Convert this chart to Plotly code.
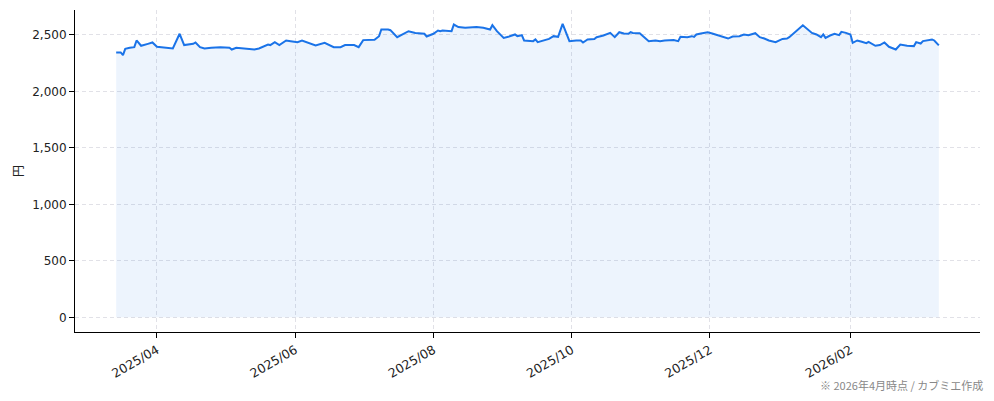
import plotly.graph_objects as go

dates = [
    "2025-03-14", "2025-03-16", "2025-03-17", "2025-03-18", "2025-03-20", "2025-03-22", "2025-03-23", "2025-03-25",
    "2025-03-28", "2025-03-30", "2025-04-01", "2025-04-04", "2025-04-08", "2025-04-11", "2025-04-13", "2025-04-17",
    "2025-04-18", "2025-04-20", "2025-04-22", "2025-04-25", "2025-04-29", "2025-05-03", "2025-05-04", "2025-05-06",
    "2025-05-11", "2025-05-14", "2025-05-16", "2025-05-19", "2025-05-20", "2025-05-21", "2025-05-23", "2025-05-25",
    "2025-05-28", "2025-05-30", "2025-06-02", "2025-06-04", "2025-06-07", "2025-06-10", "2025-06-14", "2025-06-16",
    "2025-06-18", "2025-06-21", "2025-06-23", "2025-06-27", "2025-06-29", "2025-07-01", "2025-07-05", "2025-07-06",
    "2025-07-08", "2025-07-09", "2025-07-12", "2025-07-13", "2025-07-16", "2025-07-18", "2025-07-21", "2025-07-24",
    "2025-07-26", "2025-07-28", "2025-07-29", "2025-08-01", "2025-08-03", "2025-08-04", "2025-08-05", "2025-08-07",
    "2025-08-09", "2025-08-10", "2025-08-12", "2025-08-15", "2025-08-20", "2025-08-23", "2025-08-26", "2025-08-27",
    "2025-08-29", "2025-09-01", "2025-09-03", "2025-09-06", "2025-09-07", "2025-09-09", "2025-09-10", "2025-09-14",
    "2025-09-15", "2025-09-16", "2025-09-19", "2025-09-21", "2025-09-23", "2025-09-25", "2025-09-27", "2025-09-30",
    "2025-10-03", "2025-10-05", "2025-10-06", "2025-10-08", "2025-10-11", "2025-10-12", "2025-10-15", "2025-10-18",
    "2025-10-20", "2025-10-22", "2025-10-24", "2025-10-26", "2025-10-27", "2025-10-28", "2025-10-31", "2025-11-01",
    "2025-11-04", "2025-11-07", "2025-11-09", "2025-11-11", "2025-11-15", "2025-11-17", "2025-11-18", "2025-11-21",
    "2025-11-23", "2025-11-24", "2025-11-25", "2025-11-27", "2025-11-30", "2025-12-02", "2025-12-06", "2025-12-08",
    "2025-12-09", "2025-12-11", "2025-12-14", "2025-12-16", "2025-12-18", "2025-12-21", "2025-12-23", "2025-12-25",
    "2025-12-27", "2025-12-30", "2026-01-02", "2026-01-04", "2026-01-05", "2026-01-11", "2026-01-13", "2026-01-15",
    "2026-01-17", "2026-01-19", "2026-01-20", "2026-01-21", "2026-01-23", "2026-01-25", "2026-01-27", "2026-01-28",
    "2026-01-30", "2026-02-01", "2026-02-02", "2026-02-04", "2026-02-06", "2026-02-08", "2026-02-09", "2026-02-12",
    "2026-02-14", "2026-02-16", "2026-02-18", "2026-02-21", "2026-02-23", "2026-02-26", "2026-03-01", "2026-03-02",
    "2026-03-04", "2026-03-05", "2026-03-09", "2026-03-10", "2026-03-12",
]

prices = [
    2344, 2344, 2320, 2376, 2385, 2391, 2450, 2403,
    2420, 2432, 2394, 2385, 2379, 2509, 2409, 2420,
    2432, 2391, 2379, 2385, 2391, 2385, 2370, 2385,
    2379, 2370, 2379, 2400, 2414, 2409, 2435, 2409,
    2450, 2444, 2435, 2450, 2429, 2406, 2429, 2409,
    2391, 2391, 2409, 2409, 2391, 2453, 2459, 2456,
    2488, 2547, 2547, 2541, 2479, 2503, 2532, 2517,
    2512, 2509, 2485, 2509, 2538, 2532, 2538, 2532,
    2532, 2591, 2568, 2562, 2568, 2562, 2547, 2585,
    2532, 2473, 2482, 2503, 2488, 2497, 2450, 2444,
    2459, 2435, 2453, 2464, 2488, 2482, 2597, 2444,
    2450, 2450, 2432, 2459, 2462, 2479, 2494, 2517,
    2479, 2523, 2512, 2509, 2523, 2517, 2514, 2497,
    2444, 2450, 2444, 2450, 2453, 2444, 2482, 2479,
    2488, 2482, 2503, 2512, 2523, 2512, 2488, 2479,
    2467, 2485, 2488, 2503, 2497, 2514, 2479, 2467,
    2450, 2435, 2464, 2467, 2479, 2585, 2547, 2517,
    2503, 2479, 2503, 2473, 2494, 2509, 2497, 2526,
    2517, 2503, 2429, 2450, 2438, 2426, 2438, 2403,
    2409, 2432, 2394, 2370, 2414, 2403, 2400, 2435,
    2423, 2444, 2459, 2450, 2406,
]

x_tick_vals = ["2025-04-01", "2025-06-01", "2025-08-01", "2025-10-01", "2025-12-01", "2026-02-01"]
x_tick_text = ["2025/04", "2025/06", "2025/08", "2025/10", "2025/12", "2026/02"]
y_tick_vals = [0, 500, 1000, 1500, 2000, 2500]
y_tick_text = ["0", "500", "1,000", "1,500", "2,000", "2,500"]

font_family = "DejaVu Sans, Noto Sans CJK JP, sans-serif"
grid_color = "rgba(200,200,212,0.55)"

fig = go.Figure()
fig.add_trace(go.Scatter(
    x=dates, y=prices, mode="lines",
    line=dict(color="#1a73e8", width=2),
    fill="tozeroy", fillcolor="rgba(26,115,232,0.08)",
    hoverinfo="x+y", showlegend=False,
))

# page body has an 8px margin; the figure is sized to end at the window edge
fig.update_layout(
    width=986, height=393,
    margin=dict(l=67, r=14, t=2, b=69),
    paper_bgcolor="white", plot_bgcolor="white",
    font=dict(family=font_family, size=12, color="#222222"),
)
fig.update_xaxes(
    range=["2025-02-23 20:00", "2026-03-30 04:00"],
    tickvals=x_tick_vals, ticktext=x_tick_text, tickangle=-30,
    showline=True, linecolor="black", linewidth=1, mirror=False,
    ticks="outside", ticklen=5, tickcolor="black",
    showgrid=True, gridcolor=grid_color, griddash="4px,3px", gridwidth=0.8,
    zeroline=False, tickfont=dict(size=12.5, color="#222222"),
)
fig.update_yaxes(
    range=[-129.5, 2719.5],
    tickvals=y_tick_vals, ticktext=y_tick_text,
    showline=True, linecolor="black", linewidth=1, mirror=False,
    ticks="outside", ticklen=5, tickcolor="black",
    showgrid=True, gridcolor=grid_color, griddash="4px,3px", gridwidth=0.8,
    zeroline=False, tickfont=dict(size=12, color="#222222"),
    title=dict(text="円", font=dict(size=12, color="#222222", family="Noto Sans CJK JP"), standoff=6),
)
fig.add_annotation(
    text="※ 2026年4月時点 / カブミエ作成", xref="paper", yref="paper",
    x=1.0055, y=-0.1646, xanchor="right", yanchor="middle", showarrow=False,
    font=dict(size=11, color="#888888", family="Noto Sans CJK JP"),
)

fig.write_html("out.html")
